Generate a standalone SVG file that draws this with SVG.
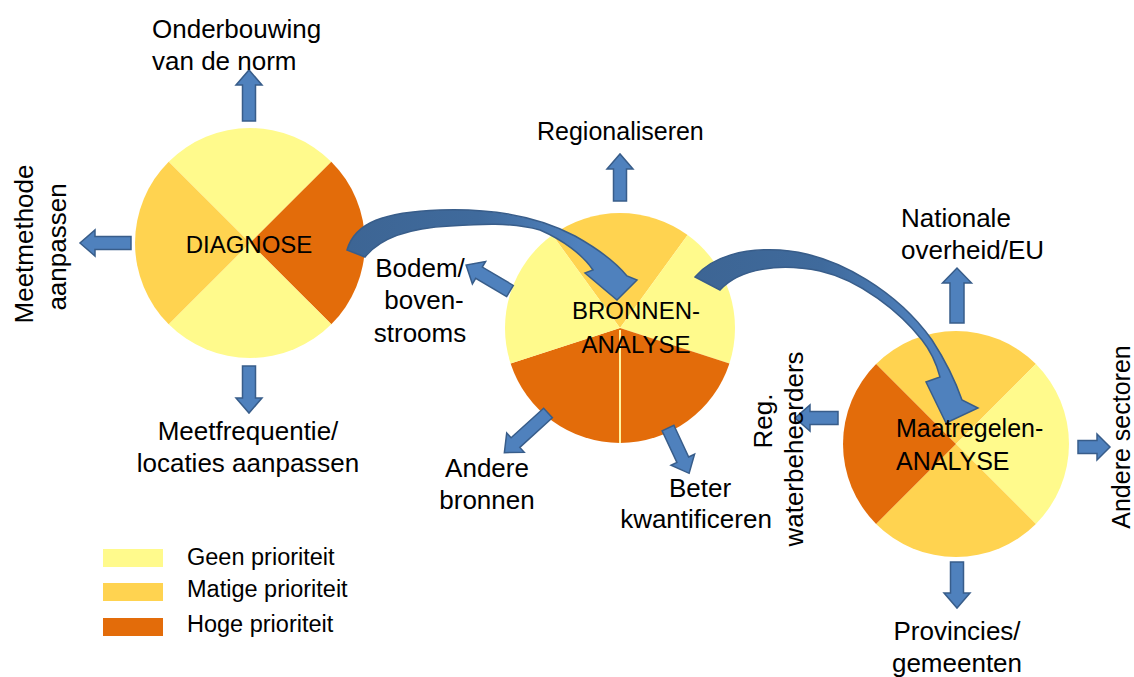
<svg xmlns="http://www.w3.org/2000/svg" width="1134" height="677" viewBox="0 0 1134 677">
<defs>
<style>
text{font-family:"Liberation Sans",Arial,sans-serif;fill:#000}
.lbl{font-size:26px}
.clbl{font-size:24px}
.leg{font-size:23.5px}
.ba{fill:#4F81BD;stroke:#385D8A;stroke-width:1.5}
.big{stroke:#385D8A;stroke-width:1.5}
.y{fill:#FFFA8C}
.m{fill:#FFD350}
.o{fill:#E36C0A}
</style>
<linearGradient id="g1" x1="0" y1="0" x2="1" y2="0">
<stop offset="0" stop-color="#3D6594"/>
<stop offset="0.45" stop-color="#3F6A9C"/>
<stop offset="0.8" stop-color="#4F81BD"/>
</linearGradient>
</defs>
<rect width="1134" height="677" fill="#fff"/>

<g id="diagnose">
<path class="y" d="M250,243 L168.7,161.7 A115,115 0 0 1 331.3,161.7 Z"/>
<path class="o" d="M250,243 L331.3,161.7 A115,115 0 0 1 331.3,324.3 Z"/>
<path class="y" d="M250,243 L331.3,324.3 A115,115 0 0 1 168.7,324.3 Z"/>
<path class="m" d="M250,243 L168.7,324.3 A115,115 0 0 1 168.7,161.7 Z"/>
<text class="clbl" x="249" y="253" text-anchor="middle">DIAGNOSE</text>
</g>

<g id="bronnen">
<path class="m" d="M620,328 L552.4,235 A115,115 0 0 1 687.6,235 Z"/>
<path class="y" d="M620,328 L687.6,235 A115,115 0 0 1 729.4,363.5 Z"/>
<path class="o" d="M620,328 L729.4,363.5 A115,115 0 0 1 620,443 Z"/>
<path class="o" d="M620,328 L620,443 A115,115 0 0 1 510.6,363.5 Z"/>
<path class="y" d="M620,328 L510.6,363.5 A115,115 0 0 1 552.4,235 Z"/>
<line x1="620" y1="330" x2="620" y2="443" stroke="#FFF4A0" stroke-width="2"/>
</g>

<g id="maatregelen">
<path class="m" d="M956,444 L876.1,364.1 A113,113 0 0 1 1035.9,364.1 Z"/>
<path class="y" d="M956,444 L1035.9,364.1 A113,113 0 0 1 1035.9,523.9 Z"/>
<path class="m" d="M956,444 L1035.9,523.9 A113,113 0 0 1 876.1,523.9 Z"/>
<path class="o" d="M956,444 L876.1,523.9 A113,113 0 0 1 876.1,364.1 Z"/>
</g>

<g id="connectors">
<path class="ba" transform="translate(249,121) rotate(-90)" d="M0,-6.5H36V-13L51,0L36,13V6.5H0Z"/>
<path class="ba" transform="translate(131,243) rotate(180)" d="M0,-6.5H36V-13L51,0L36,13V6.5H0Z"/>
<path class="ba" transform="translate(249,366) rotate(90)" d="M0,-6.5H32V-13L47,0L32,13V6.5H0Z"/>
<path class="ba" transform="translate(620,201) rotate(-90)" d="M0,-6.5H32V-13L47,0L32,13V6.5H0Z"/>
<path class="ba" transform="translate(510,291) rotate(210.6)" d="M0,-6.5H36V-13L51,0L36,13V6.5H0Z"/>
<path class="ba" transform="translate(548,413) rotate(137.7)" d="M0,-6.5H44V-13L59,0L44,13V6.5H0Z"/>
<path class="ba" transform="translate(668,428) rotate(65)" d="M0,-6.5H35V-13L50,0L35,13V6.5H0Z"/>
<path class="ba" transform="translate(957,323) rotate(-90)" d="M0,-7H40V-14.5L55,0L40,14.5V7H0Z"/>
<path class="ba" transform="translate(838,418) rotate(180)" d="M0,-6.5H28V-13L43,0L28,13V6.5H0Z"/>
<path class="ba" transform="translate(1078,447)" d="M0,-6.5H19V-13L32,0L19,13V6.5H0Z"/>
<path class="ba" transform="translate(957,562) rotate(90)" d="M0,-6.5H31V-13L46,0L31,13V6.5H0Z"/>
<path class="big" fill="url(#g1)" d="M347,250 C355,222 385,212 440,210 C500,208 545,220 575,236 C600,250 618,265 627,276 L637,280 L617,300 L585,273 L593,270 C583,255 563,240 540,230 C510,222 480,224 450,226 C410,228 380,238 365,257 Z"/>
<path class="big" fill="url(#g1)" d="M695,277 C712,256 745,248 780,250 C840,254 900,295 932,340 C945,360 955,380 962,400 L978,408 L946,423 L926,382 L940,377 C936,362 930,350 922,340 C900,312 860,280 820,271 C780,263 740,268 720,290 Z"/>
</g>

<g id="bronnen-label">
<text class="clbl" x="636" y="319" text-anchor="middle">BRONNEN-</text>
<text class="clbl" x="636" y="353" text-anchor="middle">ANALYSE</text>
</g>
<g id="maatregelen-label">
<text class="clbl" x="896" y="437" style="font-size:25px">Maatregelen-</text>
<text class="clbl" x="896" y="470" style="font-size:25px">ANALYSE</text>
</g>

<g id="onderbouwing">
<text class="lbl" x="152" y="38">Onderbouwing</text>
<text class="lbl" x="152" y="70">van de norm</text>
</g>
<g id="meetmethode">
<text class="lbl" transform="translate(33,244) rotate(-90)" text-anchor="middle">Meetmethode</text>
<text class="lbl" transform="translate(66,247) rotate(-90)" text-anchor="middle">aanpassen</text>
</g>
<g id="meetfrequentie">
<text class="lbl" x="248" y="440" text-anchor="middle">Meetfrequentie/</text>
<text class="lbl" x="248" y="472" text-anchor="middle">locaties aanpassen</text>
</g>
<g id="regionaliseren">
<text class="lbl" x="537" y="140" style="font-size:25px">Regionaliseren</text>
</g>
<g id="bodem">
<text class="lbl" x="420" y="277" text-anchor="middle">Bodem/</text>
<text class="lbl" x="424" y="309" text-anchor="middle">boven-</text>
<text class="lbl" x="420" y="342" text-anchor="middle">strooms</text>
</g>
<g id="andere-bronnen">
<text class="lbl" x="487" y="477" text-anchor="middle">Andere</text>
<text class="lbl" x="487" y="509" text-anchor="middle">bronnen</text>
</g>
<g id="beter">
<text class="lbl" x="700" y="497" text-anchor="middle">Beter</text>
<text class="lbl" x="696" y="528" text-anchor="middle">kwantificeren</text>
</g>
<g id="nationale">
<text class="lbl" x="901" y="227">Nationale</text>
<text class="lbl" x="901" y="259">overheid/EU</text>
</g>
<g id="reg">
<text class="lbl" transform="translate(772,421) rotate(-90)" text-anchor="middle">Reg.</text>
<text class="lbl" transform="translate(803,449) rotate(-90)" text-anchor="middle">waterbeheerders</text>
</g>
<g id="andere-sectoren">
<text class="lbl" transform="translate(1130,437) rotate(-90)" text-anchor="middle" style="font-size:25px">Andere sectoren</text>
</g>
<g id="provincies">
<text class="lbl" x="957" y="640" text-anchor="middle">Provincies/</text>
<text class="lbl" x="957" y="672" text-anchor="middle">gemeenten</text>
</g>

<g id="legend">
<rect class="y" x="103" y="549" width="60" height="18"/>
<rect class="m" x="103" y="583" width="60" height="18"/>
<rect class="o" x="103" y="618" width="60" height="18"/>
<text class="leg" x="187" y="565">Geen prioriteit</text>
<text class="leg" x="187" y="597">Matige prioriteit</text>
<text class="leg" x="187" y="632">Hoge prioriteit</text>
</g>
</svg>
